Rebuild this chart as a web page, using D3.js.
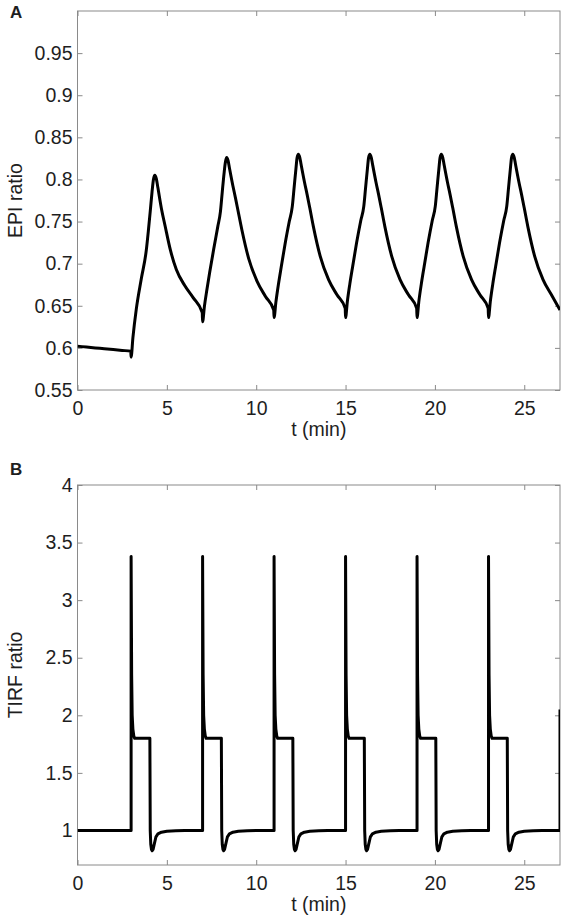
<!DOCTYPE html>
<html>
<head>
<meta charset="utf-8">
<script src="https://cdn.jsdelivr.net/npm/d3@7"></script>
<style>
  html, body { margin: 0; padding: 0; background: #fff; }
  svg { display: block; }
  text { font-family: "Liberation Sans", Arial, Helvetica, sans-serif; }
</style>
</head>
<body>
<svg id="chart" width="561" height="918"></svg>
<script>
// ---------------- DATA ----------------
const xTicks = [0, 5, 10, 15, 20, 25];
const epiTicks = [0.55, 0.6, 0.65, 0.7, 0.75, 0.8, 0.85, 0.9, 0.95];
const tirfTicks = [1, 1.5, 2, 2.5, 3, 3.5, 4];

// Panel A: EPI ratio vs t (min)
const epiTime = [
  0, 0.5, 1, 1.5, 2, 2.5, 2.98,
  3.0, 3.1, 3.29, 3.57, 3.85, 3.97, 4.07, 4.17, 4.25, 4.33, 4.41, 4.5, 4.7, 4.9, 5.2, 5.53, 6.0, 6.46, 6.98,
  7.0, 7.1, 7.24, 7.4, 7.62, 7.85, 8.0, 8.1, 8.2, 8.28, 8.35, 8.43, 8.5, 8.7, 8.85, 9.0, 9.2, 9.58, 10.05, 10.52, 10.98,
  11.0, 11.1, 11.24, 11.4, 11.62, 11.85, 12.02, 12.12, 12.22, 12.29, 12.36, 12.44, 12.51, 12.7, 12.85, 13.0, 13.2, 13.58, 14.05, 14.52, 14.98,
  15.0, 15.1, 15.24, 15.4, 15.62, 15.85, 16.02, 16.12, 16.22, 16.29, 16.36, 16.44, 16.51, 16.7, 16.85, 17.0, 17.2, 17.58, 18.05, 18.52, 18.98,
  19.0, 19.1, 19.24, 19.4, 19.62, 19.85, 20.02, 20.12, 20.22, 20.29, 20.36, 20.44, 20.51, 20.7, 20.85, 21.0, 21.2, 21.58, 22.05, 22.52, 22.98,
  23.0, 23.1, 23.24, 23.4, 23.62, 23.85, 24.02, 24.12, 24.22, 24.29, 24.36, 24.44, 24.51, 24.7, 24.85, 25.0, 25.2, 25.58, 26.05, 26.52, 27.0
];
const epiRatio = [
  0.602, 0.601, 0.600, 0.599, 0.598, 0.597, 0.596,
  0.589, 0.612, 0.646, 0.682, 0.716, 0.740, 0.762, 0.785, 0.800, 0.805, 0.801, 0.790, 0.765, 0.745, 0.716, 0.693, 0.674, 0.660, 0.642,
  0.631, 0.649, 0.669, 0.690, 0.717, 0.744, 0.762, 0.785, 0.807, 0.821, 0.826, 0.822, 0.814, 0.792, 0.777, 0.761, 0.740, 0.706, 0.679, 0.661, 0.645,
  0.636, 0.654, 0.675, 0.696, 0.724, 0.750, 0.768, 0.790, 0.812, 0.826, 0.830, 0.826, 0.818, 0.797, 0.782, 0.766, 0.744, 0.709, 0.681, 0.663, 0.647,
  0.636, 0.655, 0.676, 0.697, 0.725, 0.751, 0.768, 0.790, 0.812, 0.826, 0.830, 0.826, 0.818, 0.797, 0.782, 0.766, 0.744, 0.709, 0.681, 0.663, 0.647,
  0.636, 0.655, 0.676, 0.697, 0.725, 0.751, 0.768, 0.790, 0.812, 0.826, 0.830, 0.826, 0.818, 0.797, 0.782, 0.766, 0.744, 0.709, 0.681, 0.663, 0.647,
  0.636, 0.655, 0.676, 0.697, 0.725, 0.751, 0.768, 0.790, 0.812, 0.826, 0.830, 0.826, 0.818, 0.797, 0.782, 0.766, 0.744, 0.709, 0.681, 0.663, 0.645
];

// Panel B: TIRF ratio vs t (min)
const tirfTime = [
  0,
  3, 3, 3.03, 3.06, 3.1, 3.15, 3.2, 4.05, 4.07, 4.1, 4.14, 4.18, 4.23, 4.28, 4.39, 4.5, 4.7, 5.0, 5.5, 6.0,
  7, 7, 7.03, 7.06, 7.1, 7.15, 7.2, 8.05, 8.07, 8.1, 8.14, 8.18, 8.23, 8.28, 8.39, 8.5, 8.7, 9.0, 9.5, 10.0,
  11, 11, 11.03, 11.06, 11.1, 11.15, 11.2, 12.05, 12.07, 12.1, 12.14, 12.18, 12.23, 12.28, 12.39, 12.5, 12.7, 13.0, 13.5, 14.0,
  15, 15, 15.03, 15.06, 15.1, 15.15, 15.2, 16.05, 16.07, 16.1, 16.14, 16.18, 16.23, 16.28, 16.39, 16.5, 16.7, 17.0, 17.5, 18.0,
  19, 19, 19.03, 19.06, 19.1, 19.15, 19.2, 20.05, 20.07, 20.1, 20.14, 20.18, 20.23, 20.28, 20.39, 20.5, 20.7, 21.0, 21.5, 22.0,
  23, 23, 23.03, 23.06, 23.1, 23.15, 23.2, 24.05, 24.07, 24.1, 24.14, 24.18, 24.23, 24.28, 24.39, 24.5, 24.7, 25.0, 25.5, 26.0,
  27, 27
];
const tirfRatio = [
  1.0,
  1.0, 3.38, 2.35, 2.0, 1.88, 1.82, 1.80, 1.80, 1.0, 0.88, 0.835, 0.824, 0.835, 0.87, 0.945, 0.97, 0.985, 0.993, 0.998, 1.0,
  1.0, 3.38, 2.35, 2.0, 1.88, 1.82, 1.80, 1.80, 1.0, 0.88, 0.835, 0.824, 0.835, 0.87, 0.945, 0.97, 0.985, 0.993, 0.998, 1.0,
  1.0, 3.38, 2.35, 2.0, 1.88, 1.82, 1.80, 1.80, 1.0, 0.88, 0.835, 0.824, 0.835, 0.87, 0.945, 0.97, 0.985, 0.993, 0.998, 1.0,
  1.0, 3.38, 2.35, 2.0, 1.88, 1.82, 1.80, 1.80, 1.0, 0.88, 0.835, 0.824, 0.835, 0.87, 0.945, 0.97, 0.985, 0.993, 0.998, 1.0,
  1.0, 3.38, 2.35, 2.0, 1.88, 1.82, 1.80, 1.80, 1.0, 0.88, 0.835, 0.824, 0.835, 0.87, 0.945, 0.97, 0.985, 0.993, 0.998, 1.0,
  1.0, 3.38, 2.35, 2.0, 1.88, 1.82, 1.80, 1.80, 1.0, 0.88, 0.835, 0.824, 0.835, 0.87, 0.945, 0.97, 0.985, 0.993, 0.998, 1.0,
  1.0, 2.05
];

// ---------------- DRAW ----------------
const svg = d3.select("#chart");
const AXIS = "#8a8a8a", TEXT = "#1e1e1e", FS = 19.5;

function panel(opts) {
  const { top, bottom, left, right, domainY, ticksY, times, values, ylabel, letter, letterY, curve, id, fmtY } = opts;
  const x = d3.scaleLinear().domain([0, 27]).range([left, right]);
  const y = d3.scaleLinear().domain(domainY).range([bottom, top]);
  const g = svg.append("g");

  g.append("clipPath").attr("id", id).append("rect")
    .attr("x", left).attr("y", top).attr("width", right - left).attr("height", bottom - top);

  const styleAxis = sel => {
    sel.select(".domain").remove();
    sel.selectAll(".tick line").attr("stroke", AXIS).attr("stroke-width", 1);
    sel.selectAll(".tick text").attr("fill", TEXT).attr("font-size", FS)
      .attr("font-family", '"Liberation Sans", Arial, sans-serif');
  };

  g.append("g").attr("transform", `translate(0,${bottom})`)
    .call(d3.axisBottom(x).tickValues(xTicks).tickSize(-5).tickPadding(11).tickFormat(d3.format("d")))
    .call(styleAxis);
  g.append("g").attr("transform", `translate(0,${top})`)
    .call(d3.axisTop(x).tickValues(xTicks).tickSize(-5).tickFormat(""))
    .call(styleAxis);
  g.append("g").attr("transform", `translate(${left},0)`)
    .call(d3.axisLeft(y).tickValues(ticksY).tickSize(-5).tickPadding(5).tickFormat(fmtY))
    .call(styleAxis);
  g.append("g").attr("transform", `translate(${right},0)`)
    .call(d3.axisRight(y).tickValues(ticksY).tickSize(-5).tickFormat(""))
    .call(styleAxis);

  g.append("rect").attr("x", left).attr("y", top)
    .attr("width", right - left).attr("height", bottom - top)
    .attr("fill", "none").attr("stroke", AXIS).attr("stroke-width", 1);

  const pts = times.map((t, i) => [t, values[i]]);
  const line = d3.line().x(d => x(d[0])).y(d => y(d[1])).curve(curve);
  g.append("path").datum(pts)
    .attr("clip-path", `url(#${id})`)
    .attr("d", line)
    .attr("fill", "none").attr("stroke", "#000").attr("stroke-width", 3)
    .attr("stroke-linejoin", "round").attr("stroke-linecap", "butt");

  g.append("text").attr("x", (left + right) / 2).attr("y", bottom + 46)
    .attr("text-anchor", "middle").attr("font-size", FS).attr("fill", TEXT).text("t (min)");
  g.append("text").attr("transform", `translate(22,${(top + bottom) / 2}) rotate(-90)`)
    .attr("text-anchor", "middle").attr("font-size", FS).attr("fill", TEXT).text(ylabel);
  g.append("text").attr("x", 10).attr("y", letterY)
    .attr("font-size", 17).attr("font-weight", "bold").attr("fill", TEXT).text(letter);
}

panel({
  id: "clipA", top: 11, bottom: 390, left: 77.5, right: 560,
  domainY: [0.55, 1.0], ticksY: epiTicks, times: epiTime, values: epiRatio,
  ylabel: "EPI ratio", letter: "A", letterY: 18, curve: d3.curveMonotoneX,
  fmtY: d => String(+d.toFixed(2))
});
panel({
  id: "clipB", top: 485, bottom: 865, left: 77.5, right: 560,
  domainY: [0.7, 4.0], ticksY: tirfTicks, times: tirfTime, values: tirfRatio,
  ylabel: "TIRF ratio", letter: "B", letterY: 475, curve: d3.curveLinear,
  fmtY: d => String(+d.toFixed(1))
});
</script>
</body>
</html>
